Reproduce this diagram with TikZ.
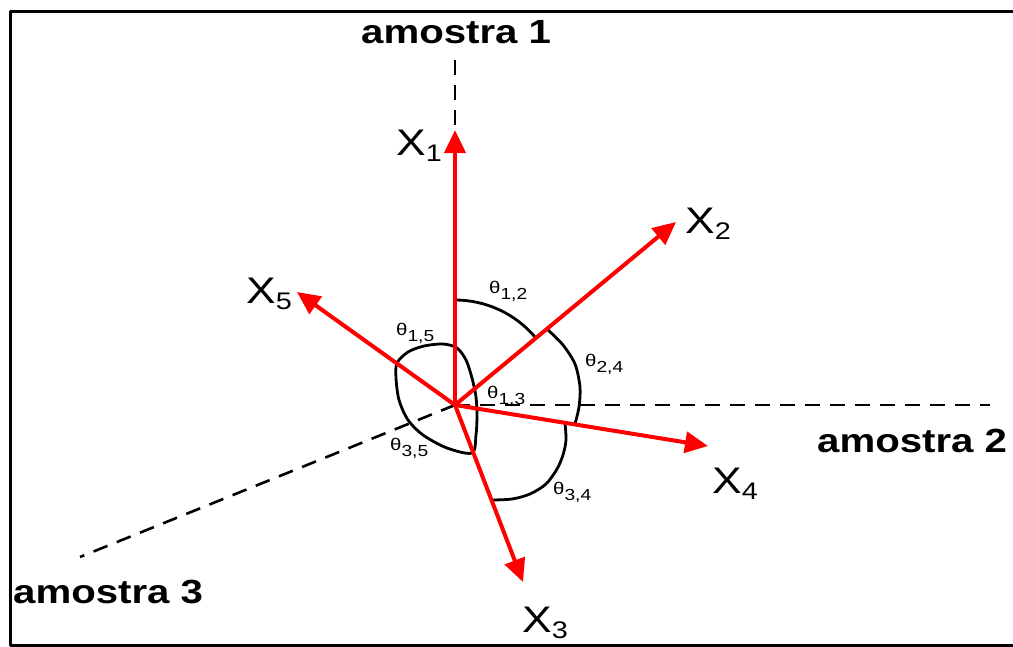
\documentclass[tikz,border=0pt]{standalone}
\usepackage{fontspec}
\setmainfont{Liberation Sans}[FakeStretch=1.2]
\usetikzlibrary{arrows.meta}
\tikzset{
  every picture/.style={line join=round, >=Stealth},
  vec/.style={draw=red, line width=4pt, -{Triangle[length=23pt,width=21pt]}},
  axis/.style={draw=black, line width=2.6pt, dash pattern=on 15pt off 10pt},
  anglearc/.style={draw=black, line width=2.8pt},
  sample/.style={font=\fontsize{33.5}{40}\selectfont\bfseries, anchor=base west, inner sep=0pt},
  vlabel/.style={font=\fontsize{37}{44}\selectfont, anchor=base west, inner sep=0pt},
  alabel/.style={font=\fontsize{17}{20}\selectfont, anchor=base west, inner sep=0pt},
}
\newcommand{\vsub}[1]{X\raisebox{-6pt}{\fontsize{24}{24}\selectfont#1}}
\newcommand{\asub}[1]{θ\raisebox{-6pt}{\fontsize{16}{16}\selectfont#1}}
\begin{document}
\begin{tikzpicture}[x=1pt,y=-1pt]
\useasboundingbox (0,0) rectangle (1013,646);
\draw[line width=3pt] (1100,11) -- (10,11) -- (10,645) -- (1100,645);
\coordinate (o) at (455,405);
\coordinate (e1) at (455,60);
\coordinate (e2) at (990,405);
\coordinate (e3) at (80,557);
\coordinate (p1) at (455,130);
\coordinate (p2) at (676,222);
\coordinate (p3) at (523,582);
\coordinate (p4) at (708,446);
\coordinate (p5) at (297,292);
\draw[axis] (e1)--(o);
\draw[axis] (o)--(e2);
\draw[axis] (o)--(e3);
\draw[anglearc] (o) ++(-90:105) arc[start angle=-90, end angle=-40, radius=105];
\draw[anglearc] plot[smooth] coordinates {(548,330) (563,345) (575,364) (580,387) (579,407) (575,424)};
\draw[anglearc] plot[smooth] coordinates {(565,423) (566,440) (563,455) (557,469) (546,484) (530,494) (512,499) (492,500)};
\draw[anglearc] plot[smooth cycle] coordinates {(397,363) (408,352) (424,346) (443,344) (457,348) (466,360) (472,378) (476,397) (477,416) (476,435) (472,453) (447,448) (423,435) (408,420) (399,400) (396,378)};
\draw[vec] (o)--(p1);
\draw[vec] (o)--(p2);
\draw[vec] (o)--(p3);
\draw[vec] (o)--(p4);
\draw[vec] (o)--(p5);
\node[sample] (s1) at (361,43) {amostra 1};
\node[sample] (s2) at (817,452) {amostra 2};
\node[sample] (s3) at (13,603) {amostra 3};
\node[vlabel] (x1) at (396,155) {\vsub{1}};
\node[vlabel] (x2) at (685,233) {\vsub{2}};
\node[vlabel] (x3) at (522,632) {\vsub{3}};
\node[vlabel] (x4) at (712,493) {\vsub{4}};
\node[vlabel] (x5) at (246,303) {\vsub{5}};
\node[alabel] (t12) at (489,293) {\asub{1,2}};
\node[alabel] (t15) at (396,335) {\asub{1,5}};
\node[alabel] (t13) at (487,398) {\asub{1,3}};
\node[alabel] (t35) at (390,450) {\asub{3,5}};
\node[alabel] (t24) at (585,366) {\asub{2,4}};
\node[alabel] (t34) at (553,494) {\asub{3,4}};
\end{tikzpicture}
\end{document}
